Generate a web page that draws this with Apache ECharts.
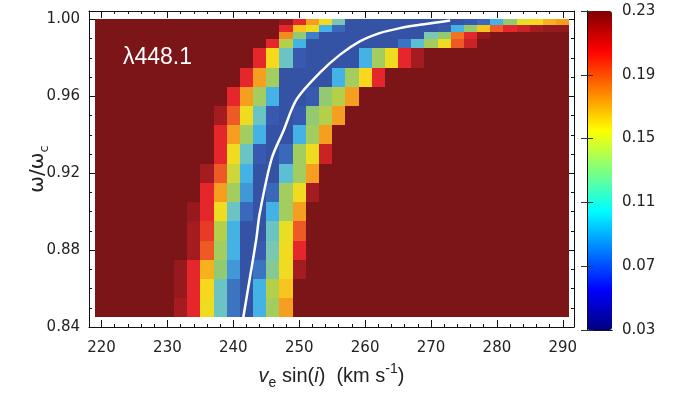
<!DOCTYPE html>
<html>
<head>
<meta charset="utf-8">
<script src="https://cdn.jsdelivr.net/npm/echarts@6/dist/echarts.min.js"></script>
<style>
  html, body { margin: 0; padding: 0; background: #fff; }
  #chart { width: 680px; height: 395px; }
</style>
</head>
<body>
<div id="chart"></div>
<script>
// column centres (v_e sin i), each cell is 2 km/s wide
const xCenters = [220, 222, 224, 226, 228, 230, 232, 234, 236, 238, 240, 242,
  244, 246, 248, 250, 252, 254, 256, 258, 260, 262, 264, 266,
  268, 270, 272, 274, 276, 278, 280, 282, 284, 286, 288, 290]

// row edges in omega/omega_c (finer rows close to critical rotation)
const yEdges = [0.845, 0.855, 0.865, 0.875, 0.885, 0.895, 0.905, 0.915, 0.925,
  0.935, 0.945, 0.955, 0.965, 0.975, 0.985, 0.99, 0.9935, 0.997, 1.0]

// cell values, one array per row, bottom row first
const rows = [
  [.23,.23,.23,.23,.23,.23,.222,.21,.155,.115,.075,.05,.10,.135,.175,.23,.23,.23,.23,.23,.23,.23,.23,.23,.23,.23,.23,.23,.23,.23,.23,.23,.23,.23,.23,.23],
  [.23,.23,.23,.23,.23,.23,.225,.21,.16,.115,.075,.05,.10,.14,.165,.23,.23,.23,.23,.23,.23,.23,.23,.23,.23,.23,.23,.23,.23,.23,.23,.23,.23,.23,.23,.23],
  [.23,.23,.23,.23,.23,.23,.225,.21,.17,.13,.09,.05,.075,.125,.155,.222,.23,.23,.23,.23,.23,.23,.23,.23,.23,.23,.23,.23,.23,.23,.23,.23,.23,.23,.23,.23],
  [.23,.23,.23,.23,.23,.23,.23,.222,.19,.135,.10,.05,.06,.12,.155,.21,.23,.23,.23,.23,.23,.23,.23,.23,.23,.23,.23,.23,.23,.23,.23,.23,.23,.23,.23,.23],
  [.23,.23,.23,.23,.23,.23,.23,.222,.20,.14,.10,.05,.05,.115,.15,.19,.23,.23,.23,.23,.23,.23,.23,.23,.23,.23,.23,.23,.23,.23,.23,.23,.23,.23,.23,.23],
  [.23,.23,.23,.23,.23,.23,.23,.225,.21,.155,.115,.07,.05,.10,.135,.175,.23,.23,.23,.23,.23,.23,.23,.23,.23,.23,.23,.23,.23,.23,.23,.23,.23,.23,.23,.23],
  [.23,.23,.23,.23,.23,.23,.23,.23,.21,.175,.135,.09,.05,.07,.135,.155,.222,.23,.23,.23,.23,.23,.23,.23,.23,.23,.23,.23,.23,.23,.23,.23,.23,.23,.23,.23],
  [.23,.23,.23,.23,.23,.23,.23,.23,.222,.19,.145,.10,.05,.05,.11,.135,.175,.23,.23,.23,.23,.23,.23,.23,.23,.23,.23,.23,.23,.23,.23,.23,.23,.23,.23,.23],
  [.23,.23,.23,.23,.23,.23,.23,.23,.23,.21,.155,.115,.06,.05,.07,.135,.155,.215,.23,.23,.23,.23,.23,.23,.23,.23,.23,.23,.23,.23,.23,.23,.23,.23,.23,.23],
  [.23,.23,.23,.23,.23,.23,.23,.23,.23,.21,.175,.135,.10,.05,.05,.10,.135,.175,.23,.23,.23,.23,.23,.23,.23,.23,.23,.23,.23,.23,.23,.23,.23,.23,.23,.23],
  [.23,.23,.23,.23,.23,.23,.23,.23,.23,.222,.19,.155,.115,.06,.05,.06,.13,.14,.175,.23,.23,.23,.23,.23,.23,.23,.23,.23,.23,.23,.23,.23,.23,.23,.23,.23],
  [.23,.23,.23,.23,.23,.23,.23,.23,.23,.23,.21,.175,.135,.10,.05,.05,.06,.13,.14,.175,.23,.23,.23,.23,.23,.23,.23,.23,.23,.23,.23,.23,.23,.23,.23,.23],
  [.23,.23,.23,.23,.23,.23,.23,.23,.23,.23,.23,.21,.175,.135,.05,.05,.05,.05,.10,.135,.16,.21,.23,.23,.23,.23,.23,.23,.23,.23,.23,.23,.23,.23,.23,.23],
  [.23,.23,.23,.23,.23,.23,.23,.23,.23,.23,.23,.23,.21,.16,.115,.06,.05,.05,.05,.05,.10,.135,.155,.21,.222,.23,.23,.23,.23,.23,.23,.23,.23,.23,.23,.23],
  [.23,.23,.23,.23,.23,.23,.23,.23,.23,.23,.23,.23,.23,.21,.14,.10,.05,.05,.05,.05,.05,.05,.05,.075,.11,.135,.155,.19,.215,.23,.23,.23,.23,.23,.23,.23],
  [.23,.23,.23,.23,.23,.23,.23,.23,.23,.23,.23,.23,.23,.23,.18,.13,.08,.05,.05,.05,.05,.05,.05,.05,.05,.12,.13,.185,.21,.225,.23,.23,.23,.23,.23,.23],
  [.23,.23,.23,.23,.23,.23,.23,.23,.23,.23,.23,.23,.23,.23,.21,.165,.155,.10,.07,.05,.05,.05,.05,.05,.05,.05,.06,.10,.13,.165,.19,.21,.215,.222,.225,.225],
  [.23,.23,.23,.23,.23,.23,.23,.23,.23,.23,.23,.23,.23,.23,.225,.21,.175,.155,.12,.05,.05,.05,.05,.05,.05,.05,.05,.05,.06,.07,.10,.13,.15,.16,.17,.175]
]

// white curve
const curveX = [241.5, 242.5, 243.5, 244.0, 245.8, 247.6, 249.6, 253.1, 256.2, 259.2, 262.2, 265.3, 268.3, 270.8, 272.9]
const curveY = [0.8447, 0.8653, 0.886, 0.899, 0.9274, 0.942, 0.9584, 0.9722, 0.9817, 0.9886, 0.9929, 0.9955, 0.9972, 0.9984, 0.9994]

// colour bar tick labels
const barTicks = ['0.03', '0.07', '0.11', '0.15', '0.19', '0.23']

const jet = ['#00007f', '#0000ff', '#007fff', '#00ffff', '#7fff7f', '#ffff00', '#ff7f00', '#ff0000', '#7f0000']
// the cells in the figure are a washed-out jet
const cellColors = ['#2f4a9a', '#3350a2', '#3553a5', '#375ab0', '#3a68ba', '#3d80c8', '#4198d6',
  '#44b2e4', '#5cbfd4', '#7ac8b4', '#92ca72', '#b4cf4a', '#e6df24', '#f8d81c', '#f6b21e',
  '#f48a20', '#ee5a25', '#e93a28', '#e5262a', '#b01e22', '#7b1518']

const cells = []
rows.forEach((row, r) => {
  row.forEach((v, c) => {
    cells.push([xCenters[c] - 1, xCenters[c] + 1, yEdges[r], yEdges[r + 1], v])
  })
})

const font = 'DejaVu Sans'
const titleFont = 'Liberation Sans'
const axisText = { color: '#222', fontFamily: font, fontSize: 15 }
const frame = { show: true, lineStyle: { color: '#111', width: 1 } }
const majorTick = { show: true, inside: true, length: 7, lineStyle: { color: '#111' } }
const minorTick = { show: true, splitNumber: 5, length: 3, lineStyle: { color: '#111' } }

const chart = echarts.init(document.getElementById('chart'))

const option = {
  animation: false,
  grid: [
    { left: 89, right: 106, top: 11, bottom: 66 },
    { left: 587, width: 25, top: 11, height: 319 }
  ],
  xAxis: [
    {
      type: 'value', gridIndex: 0, min: 218.1, max: 291.7, splitNumber: 7,
      axisLine: frame, axisTick: majorTick,
      minorTick: minorTick, splitLine: { show: false },
      axisLabel: Object.assign({ margin: 14, showMinLabel: false, showMaxLabel: false }, axisText),
      name: '{i|v}{sub|e}{n| sin(}{i|i}{n|)  (km s}{sup|-1}{n|)}',
      nameLocation: 'middle', nameGap: 35, nameMoveOverlap: false,
      nameTextStyle: {
        color: '#222', fontFamily: titleFont, fontSize: 20,
        rich: {
          n: { fontFamily: titleFont, fontSize: 20, color: '#222', lineHeight: 28 },
          i: { fontFamily: titleFont, fontSize: 20, fontStyle: 'italic', color: '#222', lineHeight: 28 },
          sub: { fontFamily: titleFont, fontSize: 14, color: '#222', lineHeight: 28, verticalAlign: 'bottom' },
          sup: { fontFamily: titleFont, fontSize: 14, color: '#222', lineHeight: 28, verticalAlign: 'top' }
        }
      }
    },
    {
      type: 'value', gridIndex: 0, position: 'top', min: 218.1, max: 291.7, splitNumber: 7,
      axisLine: frame, axisTick: majorTick, minorTick: minorTick,
      splitLine: { show: false }, axisLabel: { show: false }
    },
    {
      type: 'value', gridIndex: 1, min: 0, max: 1,
      axisLine: frame, axisTick: { show: false }, axisLabel: { show: false }, splitLine: { show: false }, z: 10
    },
    {
      type: 'value', gridIndex: 1, position: 'top', min: 0, max: 1,
      axisLine: frame, axisTick: { show: false }, axisLabel: { show: false }, splitLine: { show: false }, z: 10
    }
  ],
  yAxis: [
    {
      type: 'value', gridIndex: 0, min: 0.84, max: 1.0044, interval: 0.04,
      axisLine: frame, axisTick: majorTick,
      minorTick: Object.assign({}, minorTick, { splitNumber: 4 }), splitLine: { show: false },
      axisLabel: Object.assign({ margin: 9, showMaxLabel: false, formatter: v => v.toFixed(2) }, axisText),
      name: '{n|ω/ω}{sub|c}', nameLocation: 'middle', nameGap: 38, nameMoveOverlap: false,
      nameTextStyle: {
        color: '#222', fontFamily: font, fontSize: 20,
        rich: {
          n: { fontFamily: font, fontSize: 20, color: '#222', lineHeight: 26 },
          sub: { fontFamily: font, fontSize: 13, color: '#222', lineHeight: 26, verticalAlign: 'bottom' }
        }
      }
    },
    {
      type: 'value', gridIndex: 0, position: 'right', min: 0.84, max: 1.0044, interval: 0.04,
      axisLine: frame, axisTick: majorTick,
      minorTick: Object.assign({}, minorTick, { splitNumber: 4 }),
      splitLine: { show: false }, axisLabel: { show: false }
    },
    {
      // colour bar scale, offset by 0.03 so that ticks start at 0
      type: 'value', gridIndex: 1, position: 'right', min: 0, max: 0.2, interval: 0.04,
      axisLine: frame, splitLine: { show: false }, z: 10,
      axisTick: { show: true, inside: true, length: 6, lineStyle: { color: '#333' } },
      axisLabel: Object.assign({ margin: 10, formatter: (v, i) => barTicks[i] }, axisText)
    },
    {
      type: 'value', gridIndex: 1, position: 'left', min: 0, max: 0.2, interval: 0.04,
      axisLine: frame, splitLine: { show: false }, z: 10,
      axisTick: { show: true, inside: true, length: 6, lineStyle: { color: '#333' } },
      axisLabel: { show: false }
    }
  ],
  visualMap: [
    {
      type: 'continuous', show: false, min: 0.03, max: 0.23, dimension: 4, seriesIndex: 0,
      inRange: { color: cellColors }
    },
    {
      type: 'continuous', min: 0.03, max: 0.23, seriesIndex: 2, calculable: false,
      left: 587, top: 11, itemWidth: 25, itemHeight: 319, padding: 0,
      inRange: { color: jet }, text: null, hoverLink: false
    }
  ],
  graphic: [
    {
      type: 'text', left: 123, top: 46, z: 100,
      style: { text: 'λ448.1', fill: '#fff', font: '23px "Liberation Sans"' }
    }
  ],
  series: [
    {
      type: 'custom', xAxisIndex: 0, yAxisIndex: 0,
      data: cells,
      encode: { x: [0, 1], y: [2, 3] },
      renderItem: (params, api) => {
        // snap to whole pixels so neighbouring cells meet without seams
        const p0 = api.coord([api.value(0), api.value(3)]).map(Math.round)
        const p1 = api.coord([api.value(1), api.value(2)]).map(Math.round)
        return {
          type: 'rect',
          shape: { x: p0[0], y: p0[1], width: p1[0] - p0[0], height: p1[1] - p0[1] },
          style: { fill: api.visual('color') }
        }
      }
    },
    {
      type: 'line', xAxisIndex: 0, yAxisIndex: 0,
      data: curveX.map((x, i) => [x, curveY[i]]),
      smooth: 0.3, showSymbol: false,
      lineStyle: { color: '#fff', width: 2.5 }, z: 5
    },
    {
      type: 'scatter', xAxisIndex: 2, yAxisIndex: 2, data: []
    }
  ]
}

chart.setOption(option)
</script>
</body>
</html>
